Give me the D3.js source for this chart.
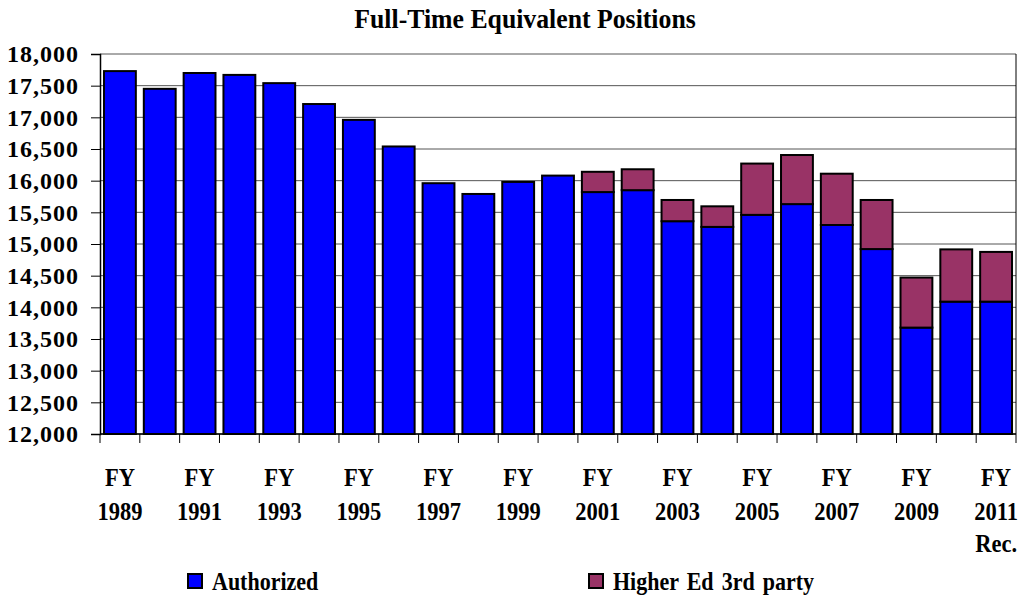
<!DOCTYPE html>
<html>
<head>
<meta charset="utf-8">
<script src="https://cdn.jsdelivr.net/npm/d3@7"></script>
<style>
  body { margin: 0; background: #fff; }
  text { font-family: "Liberation Serif", "Times New Roman", serif; font-weight: bold; fill: #000; }
</style>
</head>
<body>
<div id="chart"></div>
<script>
// Data
const years = ["1989", "1990", "1991", "1992", "1993", "1994", "1995", "1996", "1997", "1998", "1999", "2000",
  "2001", "2002", "2003", "2004", "2005", "2006", "2007", "2008", "2009", "2010", "2011"];
const authorized = [17730, 17450, 17700, 17670, 17540, 17210, 16960, 16540, 15960, 15790, 15980, 16080,
  15820, 15850, 15360, 15270, 15460, 15630, 15300, 14920, 13680, 14090, 14090];
const higherEd = [0, 0, 0, 0, 0, 0, 0, 0, 0, 0, 0, 0,
  320, 330, 335, 325, 810, 775, 810, 775, 790, 825, 785];
const labelYears = ["1989", "1991", "1993", "1995", "1997", "1999", "2001", "2003", "2005", "2007", "2009", "2011"];
const yTicks = [12000, 12500, 13000, 13500, 14000, 14500, 15000, 15500, 16000, 16500, 17000, 17500, 18000];
const seriesNames = ["Authorized", "Higher Ed 3rd party"];
const colors = ["#0000ff", "#993366"];

// Dimensions
const W = 1019, H = 597;
const margin = { top: 54, left: 100, right: 3, bottom: 163 };
const width = W - margin.left - margin.right;
const height = H - margin.top - margin.bottom;

const svg = d3.select("#chart").append("svg")
  .attr("width", W)
  .attr("height", H);

const g = svg.append("g")
  .attr("transform", `translate(${margin.left},${margin.top})`);

// Scales
const x = d3.scaleBand().domain(years).range([0, width]).paddingInner(0.2).paddingOuter(0.1);
const y = d3.scaleLinear().domain([12000, 18000]).range([height, 0]);
const step = x.step();

// Gridlines
g.selectAll(".grid").data(yTicks).enter().append("line")
  .attr("x1", 0).attr("x2", width)
  .attr("y1", d => y(d)).attr("y2", d => y(d))
  .attr("stroke", "#555").attr("stroke-width", 1);

// Right frame line
g.append("line").attr("x1", width).attr("x2", width).attr("y1", 0).attr("y2", height)
  .attr("stroke", "#000").attr("stroke-width", 1);

// Stacked bars
const table = years.map((yr, i) => ({ year: yr, Authorized: authorized[i], "Higher Ed 3rd party": higherEd[i] }));
const stacked = d3.stack().keys(seriesNames)(table);

stacked.forEach((layer, li) => {
  g.selectAll(".bar" + li).data(layer.filter(d => d[1] > d[0])).enter().append("rect")
    .attr("x", d => x(d.data.year))
    .attr("width", x.bandwidth())
    .attr("y", d => y(d[1]))
    .attr("height", d => li === 0 ? y(12000) - y(d[1]) : y(d[0]) - y(d[1]))
    .attr("fill", colors[li])
    .attr("stroke", "#000")
    .attr("stroke-width", 2);
});

// Y axis
const yAxis = g.append("g")
  .attr("font-family", null)
  .call(d3.axisLeft(y).tickValues(yTicks).tickSize(9).tickPadding(12).tickFormat(d3.format(",")));
yAxis.attr("font-family", "Liberation Serif").attr("font-size", 24);
yAxis.select(".domain").attr("stroke", "#000").attr("stroke-width", 1.5);
yAxis.selectAll("text")
  .style("font-size", "24px")
  .style("letter-spacing", "1px")
  .style("font-family", "'Liberation Serif', serif");

// X axis: line plus ticks at category boundaries
g.append("line").attr("x1", 0).attr("x2", width).attr("y1", height).attr("y2", height)
  .attr("stroke", "#000").attr("stroke-width", 1.5);
g.selectAll(".xtick").data(d3.range(years.length + 1)).enter().append("line")
  .attr("x1", i => i * step).attr("x2", i => i * step)
  .attr("y1", height).attr("y2", height + 9)
  .attr("stroke", "#000");

// X labels
const xl = g.selectAll(".xlab").data(labelYears).enter().append("g")
  .attr("transform", d => `translate(${x(d) + x.bandwidth() / 2},${height})`);
xl.append("text").attr("text-anchor", "middle").attr("y", 52)
  .attr("transform", "scale(0.9,1)")
  .style("font-size", "25px").text("FY");
xl.append("text").attr("text-anchor", "middle").attr("y", 86)
  .attr("transform", "scale(0.9,1)")
  .style("font-size", "25px").text(d => d);
xl.filter(d => d === "2011").append("text").attr("text-anchor", "middle").attr("y", 118)
  .attr("transform", "scale(0.9,1)")
  .style("font-size", "25px").text("Rec.");

// Title
svg.append("text")
  .attr("transform", "translate(525,28) scale(0.92,1)")
  .attr("text-anchor", "middle")
  .style("font-size", "28px")
  .text("Full-Time Equivalent Positions");

// Legend
const legendX = [188, 589];
seriesNames.forEach((name, i) => {
  const lg = svg.append("g").attr("transform", `translate(${legendX[i]},574)`);
  lg.append("rect").attr("width", 14).attr("height", 14)
    .attr("fill", colors[i]).attr("stroke", "#000").attr("stroke-width", 2);
  lg.append("text").attr("transform", "translate(24,16) scale(0.88,1)")
    .style("font-size", "25px").style("word-spacing", "3px").text(name);
});
</script>
</body>
</html>
